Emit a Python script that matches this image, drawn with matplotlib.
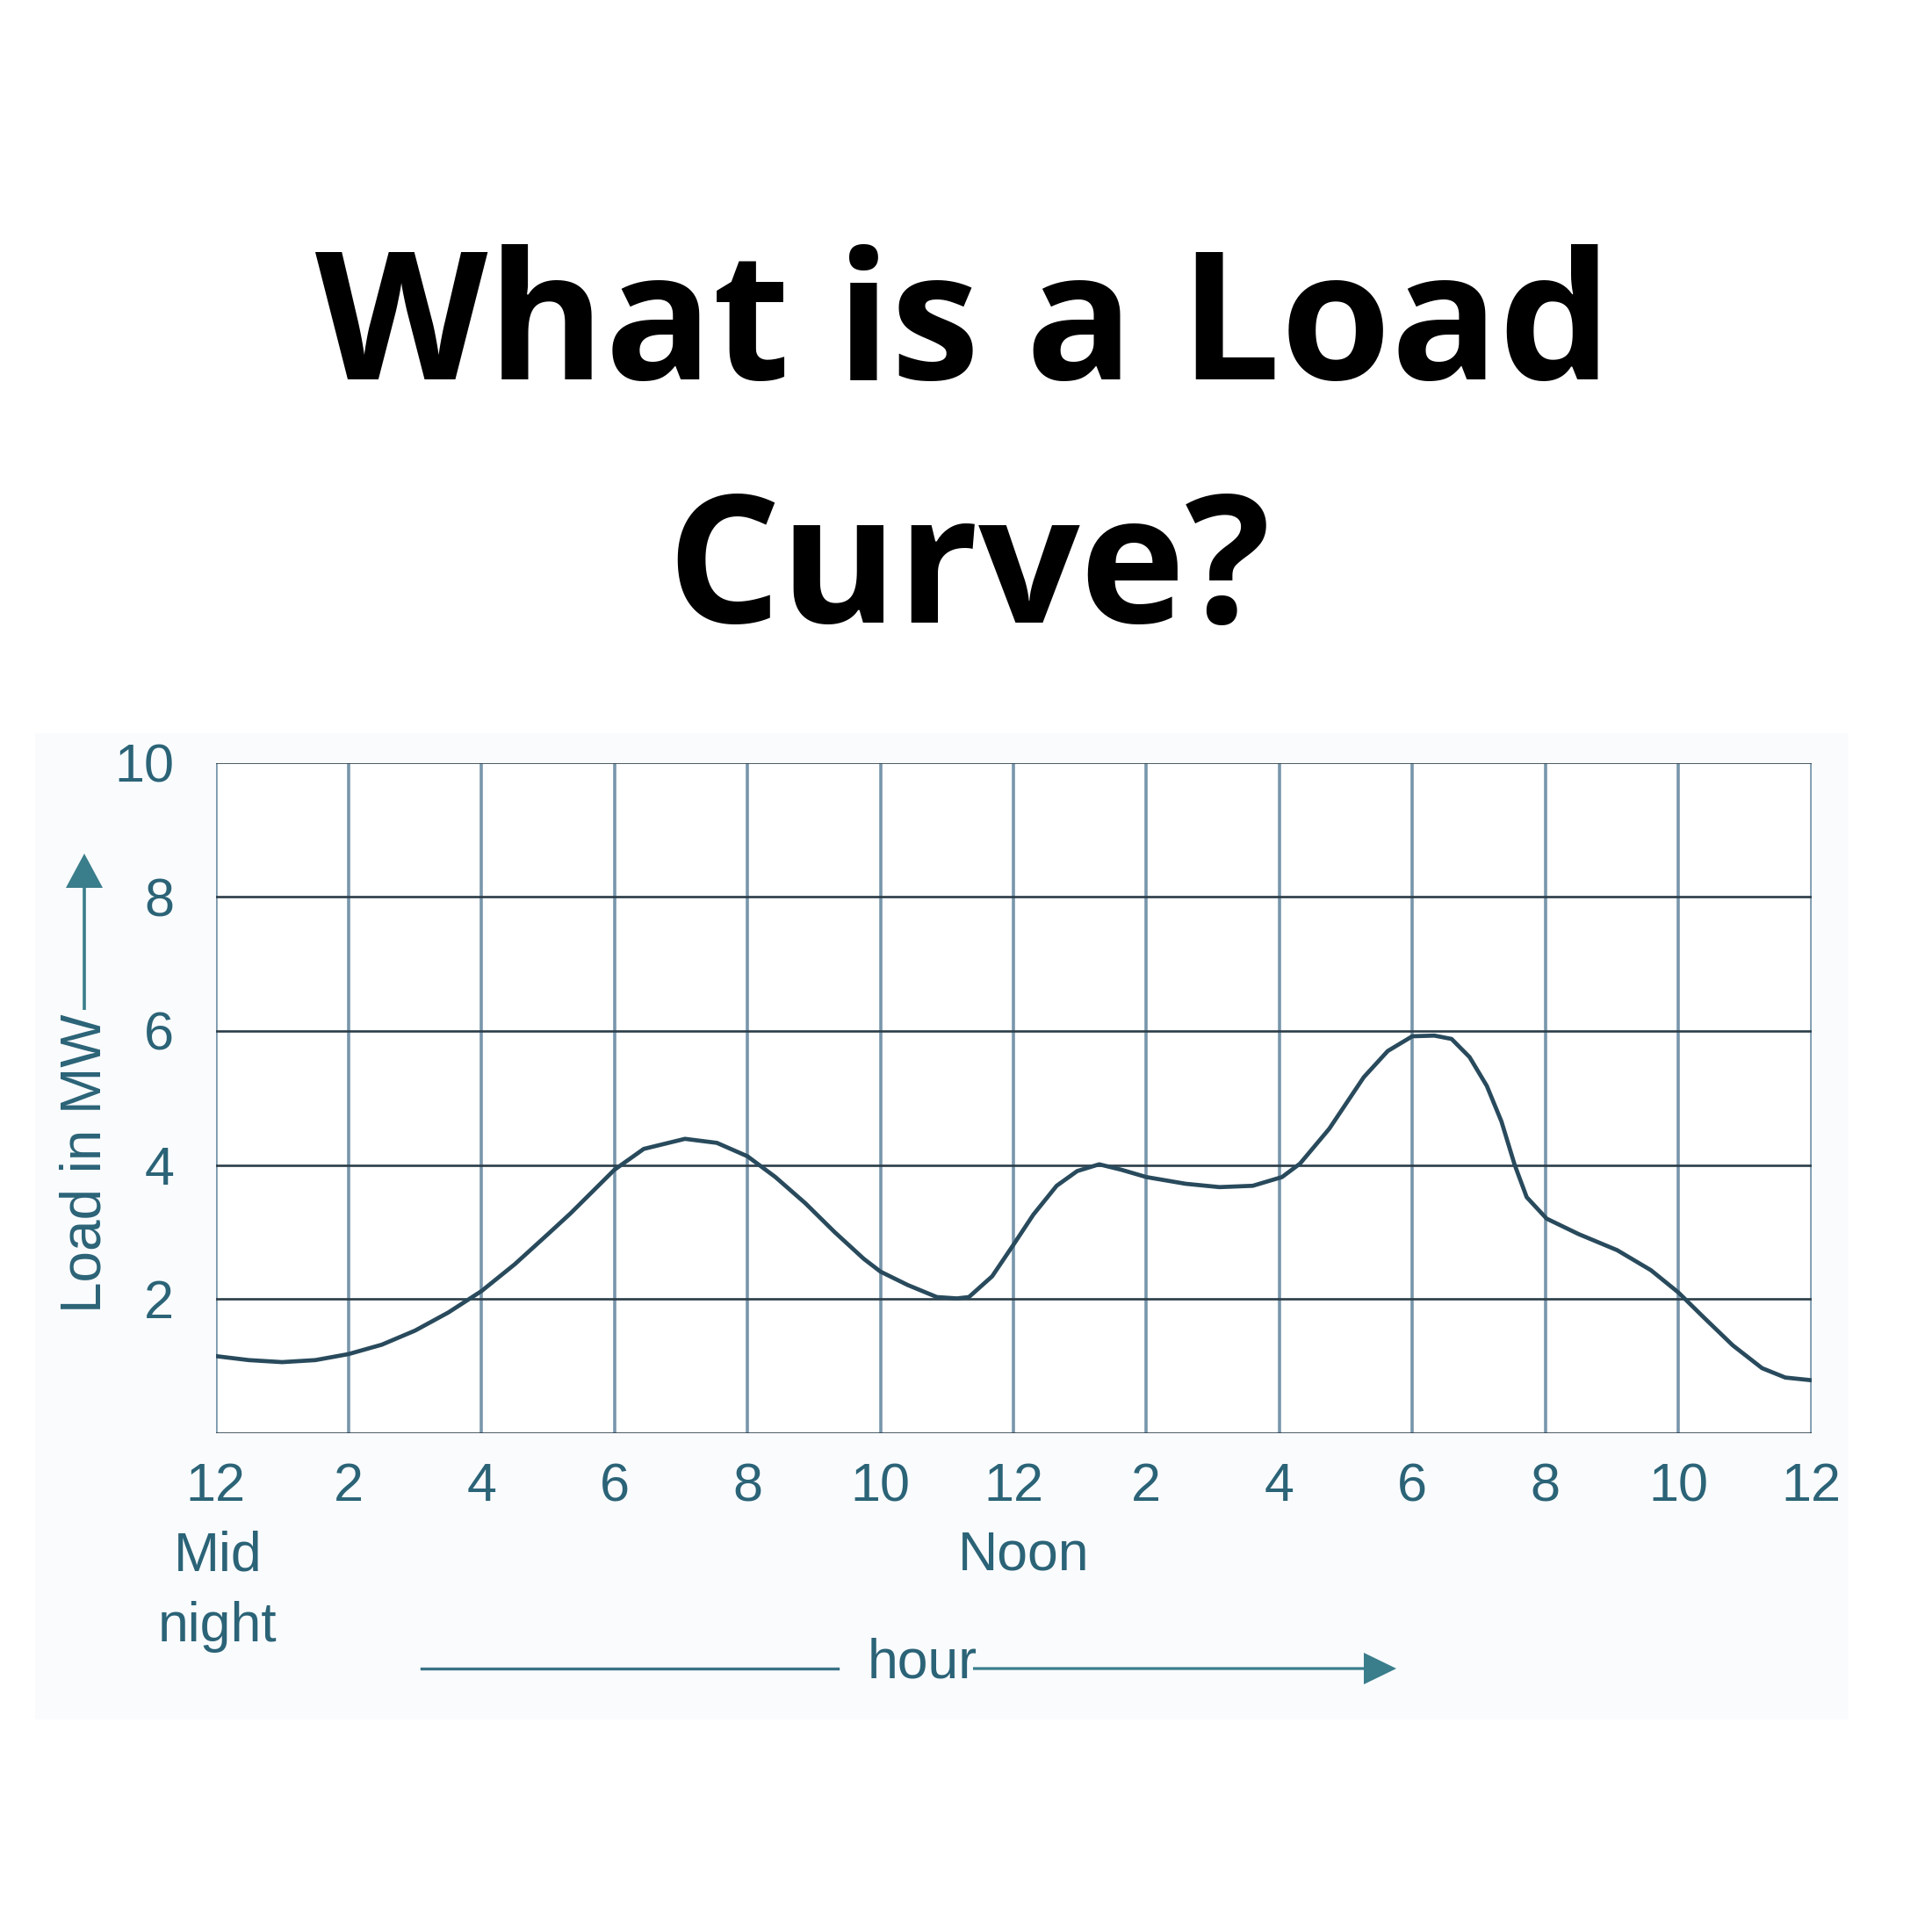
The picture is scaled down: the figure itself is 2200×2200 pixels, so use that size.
import matplotlib
matplotlib.use("Agg")
import matplotlib.pyplot as plt
from matplotlib.patches import FancyArrow, Rectangle

# ---------------- data ----------------
hours = [0, 0.5, 1, 1.5, 2, 2.5, 3, 3.5, 4, 4.5, 5, 5.34, 6, 6.44, 7.06, 7.54,
         8, 8.42, 8.87, 9.31, 9.75, 10, 10.41, 10.85, 11.15, 11.33, 11.68, 12,
         12.3, 12.65, 12.96, 13.29, 13.62, 14, 14.59, 15.1, 15.6, 16.04, 16.31,
         16.75, 17.27, 17.63, 18, 18.33, 18.59, 18.86, 19.12, 19.34, 19.54,
         19.72, 20.02, 20.5, 21.08, 21.59, 22, 22.38, 22.82, 23.26, 23.61, 24]
load_mw = [1.15, 1.09, 1.06, 1.09, 1.18, 1.32, 1.53, 1.80, 2.12, 2.52, 2.97, 3.28,
           3.93, 4.24, 4.39, 4.33, 4.13, 3.82, 3.43, 3.00, 2.60, 2.41, 2.21, 2.03,
           2.01, 2.03, 2.34, 2.81, 3.26, 3.69, 3.91, 4.01, 3.93, 3.82, 3.72, 3.67,
           3.69, 3.82, 4.02, 4.54, 5.31, 5.70, 5.92, 5.93, 5.88, 5.61, 5.18, 4.65,
           4.00, 3.52, 3.20, 2.97, 2.73, 2.43, 2.10, 1.73, 1.31, 0.97, 0.83, 0.79]
x_ticks = [0, 2, 4, 6, 8, 10, 12, 14, 16, 18, 20, 22, 24]
x_tick_labels = ["12", "2", "4", "6", "8", "10", "12", "2", "4", "6", "8", "10", "12"]
y_ticks = [2, 4, 6, 8, 10]
y_tick_labels = ["2", "4", "6", "8", "10"]
title_lines = ["What is a Load", "Curve?"]
y_label = "Load in MW"
x_label = "hour"

# ---------------- style ----------------
W = H = 2200
FONT = "Liberation Sans"
TXT = "#2b6377"
ARROW = "#3a7d8b"
VGRID = "#7896ab"
HGRID = "#2b3d48"
CURVE = "#284a5c"

fig = plt.figure(figsize=(22, 22), dpi=100)
fig.patch.set_facecolor("white")

def fx(px):
    return px / W

def fy(py):
    return 1 - py / H

# faint panel behind the chart
fig.add_artist(Rectangle((fx(40), fy(1958)), fx(2105) - fx(40), fy(835) - fy(1958),
                         transform=fig.transFigure, facecolor="#f9fbfd",
                         edgecolor="none", zorder=0))

# axes
L, R, T, B = 245.5, 2062.5, 868.5, 1632
ax = fig.add_axes([fx(L), fy(B), fx(R) - fx(L), fy(T) - fy(B)])
ax.set_facecolor("white")
ax.set_xlim(0, 24)
ax.set_ylim(0, 10)

for h in x_ticks:
    ax.axvline(h, color=VGRID, lw=2.6, zorder=1)
for v in [0, 2, 4, 6, 8, 10]:
    ax.axhline(v, color=HGRID, lw=1.9, zorder=1)
for s in ax.spines.values():
    s.set_visible(False)

ax.plot(hours, load_mw, color=CURVE, lw=3.4, zorder=3,
        solid_capstyle="round", solid_joinstyle="round")

ax.set_xticks(x_ticks)
ax.set_xticklabels(x_tick_labels)
ax.set_yticks(y_ticks)
ax.set_yticklabels(y_tick_labels)
ax.tick_params(axis="x", length=0, pad=24, labelsize=44, labelcolor=TXT)
ax.tick_params(axis="y", length=0, pad=34, labelsize=44, labelcolor=TXT)
for lab in ax.get_xticklabels() + ax.get_yticklabels():
    lab.set_fontfamily(FONT)

# extra labels under x axis
fig.text(fx(248), fy(1772), "Mid", ha="center", va="center", fontsize=45,
         color=TXT, family=FONT)
fig.text(fx(248), fy(1852), "night", ha="center", va="center", fontsize=45,
         color=TXT, family=FONT)
fig.text(fx(1166), fy(1771), "Noon", ha="center", va="center", fontsize=45,
         color=TXT, family=FONT)
fig.text(fx(1050), fy(1894), x_label, ha="center", va="center", fontsize=45,
         color=TXT, family=FONT)

# hour arrow
fig.add_artist(plt.Line2D([fx(480), fx(954)], [fy(1900), fy(1900)],
                          transform=fig.transFigure, color="#3a7286", lw=2.4))
fig.add_artist(FancyArrow(fx(1108), fy(1900), fx(1590) - fx(1108), 0,
                          width=fx(3.2), head_width=fx(36), head_length=fx(37),
                          length_includes_head=True, transform=fig.transFigure,
                          color=ARROW, lw=0))

# y label with arrow
fig.text(fx(98), fy(1325), y_label, rotation=90, ha="center", va="center",
         fontsize=46, color=TXT, family=FONT)
fig.add_artist(FancyArrow(fx(96), fy(1150), 0, fy(972) - fy(1150),
                          width=fx(3.6), head_width=fx(42), head_length=fx(39),
                          length_includes_head=True, transform=fig.transFigure,
                          color=ARROW, lw=0))

# title, sized to the measured width
fig.canvas.draw()
renderer = fig.canvas.get_renderer()
t1 = fig.text(fx(1097), fy(432), title_lines[0], ha="center", va="baseline",
              fontsize=140, fontweight="bold", family="Open Sans", color="black")
bb = t1.get_window_extent(renderer)
size = 140 * 1477 / bb.width
t1.set_fontsize(size)
fig.text(fx(1103), fy(709), title_lines[1], ha="center", va="baseline",
         fontsize=size, fontweight="bold", family="Open Sans", color="black")

fig.savefig("out.png", dpi=100, facecolor="white")
